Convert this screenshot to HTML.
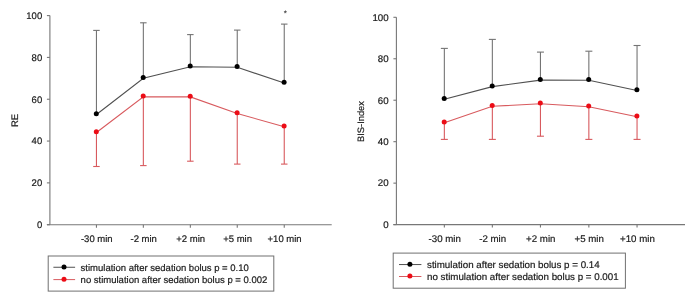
<!DOCTYPE html>
<html><head><meta charset="utf-8"><style>
html,body{margin:0;padding:0;background:#fff;width:685px;height:297px;overflow:hidden}
svg{display:block;will-change:transform}
text{font-family:"Liberation Sans", sans-serif;fill:#1a1a1a;stroke:#1a1a1a;stroke-width:0.2px;text-rendering:geometricPrecision;-webkit-font-smoothing:antialiased}
</style></head><body>
<svg width="685" height="297" viewBox="0 0 685 297">
<line x1="49.9" y1="15.6" x2="49.9" y2="224.7" stroke="#777" stroke-width="1.1"/>
<line x1="46.9" y1="224.7" x2="331.7" y2="224.7" stroke="#777" stroke-width="1.1"/>
<line x1="46.9" y1="224.70" x2="49.9" y2="224.70" stroke="#777" stroke-width="1.1"/>
<text x="42.2" y="228.00" text-anchor="end" font-size="9.5">0</text>
<line x1="46.9" y1="182.88" x2="49.9" y2="182.88" stroke="#777" stroke-width="1.1"/>
<text x="42.2" y="186.18" text-anchor="end" font-size="9.5">20</text>
<line x1="46.9" y1="141.06" x2="49.9" y2="141.06" stroke="#777" stroke-width="1.1"/>
<text x="42.2" y="144.36" text-anchor="end" font-size="9.5">40</text>
<line x1="46.9" y1="99.24" x2="49.9" y2="99.24" stroke="#777" stroke-width="1.1"/>
<text x="42.2" y="102.54" text-anchor="end" font-size="9.5">60</text>
<line x1="46.9" y1="57.42" x2="49.9" y2="57.42" stroke="#777" stroke-width="1.1"/>
<text x="42.2" y="60.72" text-anchor="end" font-size="9.5">80</text>
<line x1="46.9" y1="15.60" x2="49.9" y2="15.60" stroke="#777" stroke-width="1.1"/>
<text x="42.2" y="18.90" text-anchor="end" font-size="9.5">100</text>
<line x1="96.45" y1="224.7" x2="96.45" y2="227.7" stroke="#777" stroke-width="1.1"/>
<text x="96.8" y="241.8" text-anchor="middle" font-size="9.5">-30 min</text>
<line x1="143.35" y1="224.7" x2="143.35" y2="227.7" stroke="#777" stroke-width="1.1"/>
<text x="143.7" y="241.8" text-anchor="middle" font-size="9.5">-2 min</text>
<line x1="190.35" y1="224.7" x2="190.35" y2="227.7" stroke="#777" stroke-width="1.1"/>
<text x="190.7" y="241.8" text-anchor="middle" font-size="9.5">+2 min</text>
<line x1="237.25" y1="224.7" x2="237.25" y2="227.7" stroke="#777" stroke-width="1.1"/>
<text x="237.6" y="241.8" text-anchor="middle" font-size="9.5">+5 min</text>
<line x1="284.25" y1="224.7" x2="284.25" y2="227.7" stroke="#777" stroke-width="1.1"/>
<text x="284.6" y="241.8" text-anchor="middle" font-size="9.5">+10 min</text>
<text x="17.5" y="120.5" text-anchor="middle" font-size="9.5" transform="rotate(-90 17.5 120.5)">RE</text>
<line x1="96.45" y1="114.5" x2="96.45" y2="30.4" stroke="#747474" stroke-width="1.1"/>
<line x1="93.2" y1="30.4" x2="99.7" y2="30.4" stroke="#747474" stroke-width="1.1"/>
<line x1="143.35" y1="78.3" x2="143.35" y2="22.8" stroke="#747474" stroke-width="1.1"/>
<line x1="140.1" y1="22.8" x2="146.6" y2="22.8" stroke="#747474" stroke-width="1.1"/>
<line x1="190.35" y1="66.8" x2="190.35" y2="34.6" stroke="#747474" stroke-width="1.1"/>
<line x1="187.1" y1="34.6" x2="193.6" y2="34.6" stroke="#747474" stroke-width="1.1"/>
<line x1="237.25" y1="67.3" x2="237.25" y2="30.1" stroke="#747474" stroke-width="1.1"/>
<line x1="234.0" y1="30.1" x2="240.5" y2="30.1" stroke="#747474" stroke-width="1.1"/>
<line x1="284.25" y1="83.0" x2="284.25" y2="24.1" stroke="#747474" stroke-width="1.1"/>
<line x1="281.0" y1="24.1" x2="287.5" y2="24.1" stroke="#747474" stroke-width="1.1"/>
<line x1="96.45" y1="132.5" x2="96.45" y2="166.5" stroke="#d85a5e" stroke-width="1.1"/>
<line x1="93.2" y1="166.5" x2="99.7" y2="166.5" stroke="#d85a5e" stroke-width="1.1"/>
<line x1="143.35" y1="96.8" x2="143.35" y2="165.6" stroke="#d85a5e" stroke-width="1.1"/>
<line x1="140.1" y1="165.6" x2="146.6" y2="165.6" stroke="#d85a5e" stroke-width="1.1"/>
<line x1="190.35" y1="96.9" x2="190.35" y2="161.2" stroke="#d85a5e" stroke-width="1.1"/>
<line x1="187.1" y1="161.2" x2="193.6" y2="161.2" stroke="#d85a5e" stroke-width="1.1"/>
<line x1="237.25" y1="113.5" x2="237.25" y2="164.1" stroke="#d85a5e" stroke-width="1.1"/>
<line x1="234.0" y1="164.1" x2="240.5" y2="164.1" stroke="#d85a5e" stroke-width="1.1"/>
<line x1="284.25" y1="126.7" x2="284.25" y2="164.1" stroke="#d85a5e" stroke-width="1.1"/>
<line x1="281.0" y1="164.1" x2="287.5" y2="164.1" stroke="#d85a5e" stroke-width="1.1"/>
<polyline points="96.45,114.5 143.35,78.3 190.35,66.8 237.25,67.3 284.25,83.0" fill="none" stroke="#505050" stroke-width="1.1"/>
<polyline points="96.45,132.5 143.35,96.8 190.35,96.9 237.25,113.5 284.25,126.7" fill="none" stroke="#d85a5e" stroke-width="1.1"/>
<circle cx="96.3" cy="113.8" r="2.5" fill="#000"/>
<circle cx="143.2" cy="77.6" r="2.5" fill="#000"/>
<circle cx="190.2" cy="66.1" r="2.5" fill="#000"/>
<circle cx="237.1" cy="66.6" r="2.5" fill="#000"/>
<circle cx="284.1" cy="82.3" r="2.5" fill="#000"/>
<circle cx="96.3" cy="131.8" r="2.5" fill="#ec0c16"/>
<circle cx="143.2" cy="96.1" r="2.5" fill="#ec0c16"/>
<circle cx="190.2" cy="96.2" r="2.5" fill="#ec0c16"/>
<circle cx="237.1" cy="112.8" r="2.5" fill="#ec0c16"/>
<circle cx="284.1" cy="126" r="2.5" fill="#ec0c16"/>
<text x="285.3" y="15.6" text-anchor="middle" font-size="8" style="stroke-width:0.1px">*</text>
<line x1="396.4" y1="17.3" x2="396.4" y2="224.6" stroke="#777" stroke-width="1.1"/>
<line x1="393.4" y1="224.6" x2="686" y2="224.6" stroke="#777" stroke-width="1.1"/>
<line x1="393.4" y1="224.60" x2="396.4" y2="224.60" stroke="#777" stroke-width="1.1"/>
<text x="388.6" y="227.90" text-anchor="end" font-size="9.7">0</text>
<line x1="393.4" y1="183.14" x2="396.4" y2="183.14" stroke="#777" stroke-width="1.1"/>
<text x="388.6" y="186.44" text-anchor="end" font-size="9.7">20</text>
<line x1="393.4" y1="141.68" x2="396.4" y2="141.68" stroke="#777" stroke-width="1.1"/>
<text x="388.6" y="144.98" text-anchor="end" font-size="9.7">40</text>
<line x1="393.4" y1="100.22" x2="396.4" y2="100.22" stroke="#777" stroke-width="1.1"/>
<text x="388.6" y="103.52" text-anchor="end" font-size="9.7">60</text>
<line x1="393.4" y1="58.76" x2="396.4" y2="58.76" stroke="#777" stroke-width="1.1"/>
<text x="388.6" y="62.06" text-anchor="end" font-size="9.7">80</text>
<line x1="393.4" y1="17.30" x2="396.4" y2="17.30" stroke="#777" stroke-width="1.1"/>
<text x="388.6" y="20.60" text-anchor="end" font-size="9.7">100</text>
<line x1="444.34999999999997" y1="224.6" x2="444.34999999999997" y2="227.6" stroke="#777" stroke-width="1.1"/>
<text x="444.7" y="241.8" text-anchor="middle" font-size="9.7">-30 min</text>
<line x1="492.34999999999997" y1="224.6" x2="492.34999999999997" y2="227.6" stroke="#777" stroke-width="1.1"/>
<text x="492.7" y="241.8" text-anchor="middle" font-size="9.7">-2 min</text>
<line x1="540.4499999999999" y1="224.6" x2="540.4499999999999" y2="227.6" stroke="#777" stroke-width="1.1"/>
<text x="540.8" y="241.8" text-anchor="middle" font-size="9.7">+2 min</text>
<line x1="588.85" y1="224.6" x2="588.85" y2="227.6" stroke="#777" stroke-width="1.1"/>
<text x="589.2" y="241.8" text-anchor="middle" font-size="9.7">+5 min</text>
<line x1="637.05" y1="224.6" x2="637.05" y2="227.6" stroke="#777" stroke-width="1.1"/>
<text x="637.4" y="241.8" text-anchor="middle" font-size="9.7">+10 min</text>
<text x="364.2" y="121.5" text-anchor="middle" font-size="9.3" transform="rotate(-90 364.2 121.5)">BIS-Index</text>
<line x1="444.34999999999997" y1="99.3" x2="444.34999999999997" y2="48.4" stroke="#747474" stroke-width="1.1"/>
<line x1="440.84999999999997" y1="48.4" x2="447.84999999999997" y2="48.4" stroke="#747474" stroke-width="1.1"/>
<line x1="492.34999999999997" y1="86.60000000000001" x2="492.34999999999997" y2="39.4" stroke="#747474" stroke-width="1.1"/>
<line x1="488.84999999999997" y1="39.4" x2="495.84999999999997" y2="39.4" stroke="#747474" stroke-width="1.1"/>
<line x1="540.4499999999999" y1="80.10000000000001" x2="540.4499999999999" y2="52.1" stroke="#747474" stroke-width="1.1"/>
<line x1="536.9499999999999" y1="52.1" x2="543.9499999999999" y2="52.1" stroke="#747474" stroke-width="1.1"/>
<line x1="588.85" y1="80.3" x2="588.85" y2="51.2" stroke="#747474" stroke-width="1.1"/>
<line x1="585.35" y1="51.2" x2="592.35" y2="51.2" stroke="#747474" stroke-width="1.1"/>
<line x1="637.05" y1="90.5" x2="637.05" y2="45.5" stroke="#747474" stroke-width="1.1"/>
<line x1="633.55" y1="45.5" x2="640.55" y2="45.5" stroke="#747474" stroke-width="1.1"/>
<line x1="444.34999999999997" y1="122.7" x2="444.34999999999997" y2="139.4" stroke="#d85a5e" stroke-width="1.1"/>
<line x1="440.84999999999997" y1="139.4" x2="447.84999999999997" y2="139.4" stroke="#d85a5e" stroke-width="1.1"/>
<line x1="492.34999999999997" y1="106.3" x2="492.34999999999997" y2="139.4" stroke="#d85a5e" stroke-width="1.1"/>
<line x1="488.84999999999997" y1="139.4" x2="495.84999999999997" y2="139.4" stroke="#d85a5e" stroke-width="1.1"/>
<line x1="540.4499999999999" y1="103.7" x2="540.4499999999999" y2="136.2" stroke="#d85a5e" stroke-width="1.1"/>
<line x1="536.9499999999999" y1="136.2" x2="543.9499999999999" y2="136.2" stroke="#d85a5e" stroke-width="1.1"/>
<line x1="588.85" y1="106.8" x2="588.85" y2="139.4" stroke="#d85a5e" stroke-width="1.1"/>
<line x1="585.35" y1="139.4" x2="592.35" y2="139.4" stroke="#d85a5e" stroke-width="1.1"/>
<line x1="637.05" y1="116.7" x2="637.05" y2="139.4" stroke="#d85a5e" stroke-width="1.1"/>
<line x1="633.55" y1="139.4" x2="640.55" y2="139.4" stroke="#d85a5e" stroke-width="1.1"/>
<polyline points="444.34999999999997,99.3 492.34999999999997,86.60000000000001 540.4499999999999,80.10000000000001 588.85,80.3 637.05,90.5" fill="none" stroke="#505050" stroke-width="1.1"/>
<polyline points="444.34999999999997,122.7 492.34999999999997,106.3 540.4499999999999,103.7 588.85,106.8 637.05,116.7" fill="none" stroke="#d85a5e" stroke-width="1.1"/>
<circle cx="444.2" cy="98.6" r="2.5" fill="#000"/>
<circle cx="492.2" cy="85.9" r="2.5" fill="#000"/>
<circle cx="540.3" cy="79.4" r="2.5" fill="#000"/>
<circle cx="588.7" cy="79.6" r="2.5" fill="#000"/>
<circle cx="636.9" cy="89.8" r="2.5" fill="#000"/>
<circle cx="444.2" cy="122" r="2.5" fill="#ec0c16"/>
<circle cx="492.2" cy="105.6" r="2.5" fill="#ec0c16"/>
<circle cx="540.3" cy="103" r="2.5" fill="#ec0c16"/>
<circle cx="588.7" cy="106.1" r="2.5" fill="#ec0c16"/>
<circle cx="636.9" cy="116" r="2.5" fill="#ec0c16"/>
<rect x="48.2" y="256" width="225.60000000000002" height="35.10000000000002" fill="none" stroke="#707070" stroke-width="1"/>
<line x1="53.4" y1="267.25" x2="75.1" y2="267.25" stroke="#505050" stroke-width="1"/>
<circle cx="64" cy="266.9" r="2.5" fill="#000"/>
<line x1="53.4" y1="279.59999999999997" x2="75.1" y2="279.59999999999997" stroke="#d85a5e" stroke-width="1"/>
<circle cx="64" cy="279.2" r="2.5" fill="#ec0c16"/>
<text x="80.6" y="271.0" font-size="9.5">stimulation after sedation bolus p = 0.10</text>
<text x="80.6" y="282.9" font-size="9.5">no stimulation after sedation bolus p = 0.002</text>
<rect x="393.2" y="253.1" width="232.2" height="35.099999999999994" fill="none" stroke="#707070" stroke-width="1"/>
<line x1="399" y1="264.55" x2="421.4" y2="264.55" stroke="#505050" stroke-width="1"/>
<circle cx="409.9" cy="264.2" r="2.5" fill="#000"/>
<line x1="399" y1="276.5" x2="421.4" y2="276.5" stroke="#d85a5e" stroke-width="1"/>
<circle cx="409.9" cy="276.1" r="2.5" fill="#ec0c16"/>
<text x="427" y="268.2" font-size="9.75">stimulation after sedation bolus p = 0.14</text>
<text x="427" y="280.40000000000003" font-size="9.75">no stimulation after sedation bolus p = 0.001</text>
</svg>
</body></html>
